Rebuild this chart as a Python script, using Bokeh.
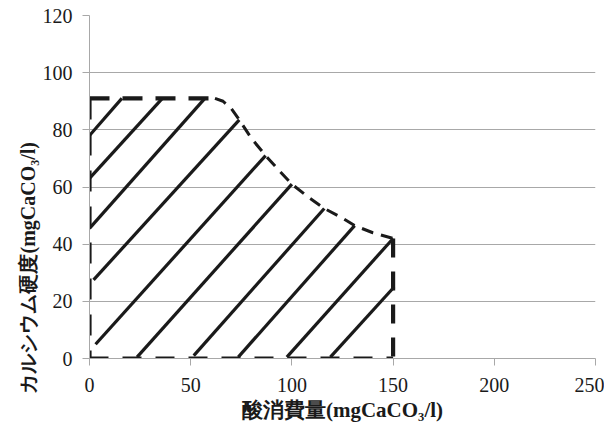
import math
from bokeh.plotting import figure
from bokeh.models import Range1d, Title, FixedTicker
from bokeh.embed import file_html
from bokeh.resources import INLINE

# ---- data ----
x_ticks = [0, 50, 100, 150, 200, 250]
y_ticks = [0, 20, 40, 60, 80, 100, 120]

# hatch segments (start -> end), in data units
hatch_x0 = [0, 0, 0, 2, 3, 23.5, 51.5, 73.5, 97.5, 119]
hatch_y0 = [78, 63, 45.5, 27.5, 5, 0.5, 1, 0.5, 0.5, 0.5]
hatch_x1 = [16, 36, 57, 74, 87, 100, 116, 131, 150, 150.5]
hatch_y1 = [91, 91, 91, 83.5, 71, 61, 52.5, 46.5, 42, 25]

# dashed curved upper-right boundary
curve_x = [62, 66, 70, 74, 80, 87, 94, 100, 108, 116, 124, 131, 140, 150]
curve_y = [91, 90, 87.5, 83.5, 77, 71, 65.5, 61, 56.5, 52.5, 49.5, 46.5, 44, 42]

# straight dashed boundaries
left_x, left_y = [0, 0], [91, 0]
top_x, top_y = [0, 62], [91, 91]
bottom_x, bottom_y = [0, 150], [0, 0]
right_x, right_y = [150, 150], [42, 0]

x_label = "酸消費量(mgCaCO₃/l)"
y_label = "カルシウム硬度(mgCaCO₃/l)"

INK = "#1a1a1a"
GRID = "#a8a8a8"
LATIN = "serif"
MIXED = "serif"

p = figure(width=604, height=424, x_range=Range1d(0, 250), y_range=Range1d(0, 120),
           output_backend="svg", toolbar_location=None,
           min_border_left=89, min_border_right=9, min_border_top=15, min_border_bottom=66)
p.outline_line_color = None
p.background_fill_color = "white"
p.border_fill_color = "white"

p.xgrid.visible = False
p.ygrid.grid_line_color = GRID
p.ygrid.grid_line_width = 1

for ax in (p.xaxis, p.yaxis):
    ax.axis_line_color = GRID
    ax.major_tick_line_color = GRID
    ax.major_tick_in = 0
    ax.major_tick_out = 7
    ax.minor_tick_line_color = None
    ax.major_label_text_font = LATIN
    ax.major_label_text_font_size = "20px"
    ax.major_label_text_color = INK

p.xaxis.ticker = FixedTicker(ticks=x_ticks)
p.yaxis.ticker = FixedTicker(ticks=y_ticks)
p.xaxis.major_label_standoff = 12
p.yaxis.major_label_standoff = 10

p.xaxis.axis_label = x_label
p.xaxis.axis_label_text_font = MIXED
p.xaxis.axis_label_text_font_size = "21px"
p.xaxis.axis_label_text_font_style = "bold"
p.xaxis.axis_label_text_color = INK
p.xaxis.axis_label_standoff = 3

# hatching
p.segment(x0=hatch_x0, y0=hatch_y0, x1=hatch_x1, y1=hatch_y1,
          line_color=INK, line_width=3.2)

# boundaries
p.line(curve_x, curve_y, line_color=INK, line_width=3, line_dash="12 8")
p.line(left_x, left_y, line_color=INK, line_width=4.2, line_dash="21 15")
p.line(top_x, top_y, line_color=INK, line_width=4.2, line_dash="20 13")
p.line(bottom_x, bottom_y, line_color=INK, line_width=4.2, line_dash="19 14")
p.line(right_x, right_y, line_color=INK, line_width=4.2, line_dash="19 14")

ytitle = Title(text=y_label, align="left", offset=-35, vertical_align="middle",
               standoff=0, text_font=MIXED, text_font_size="20px",
               text_font_style="bold", text_color=INK)
p.add_layout(ytitle, "left")

open("out.html", "w").write(file_html(p, INLINE))
